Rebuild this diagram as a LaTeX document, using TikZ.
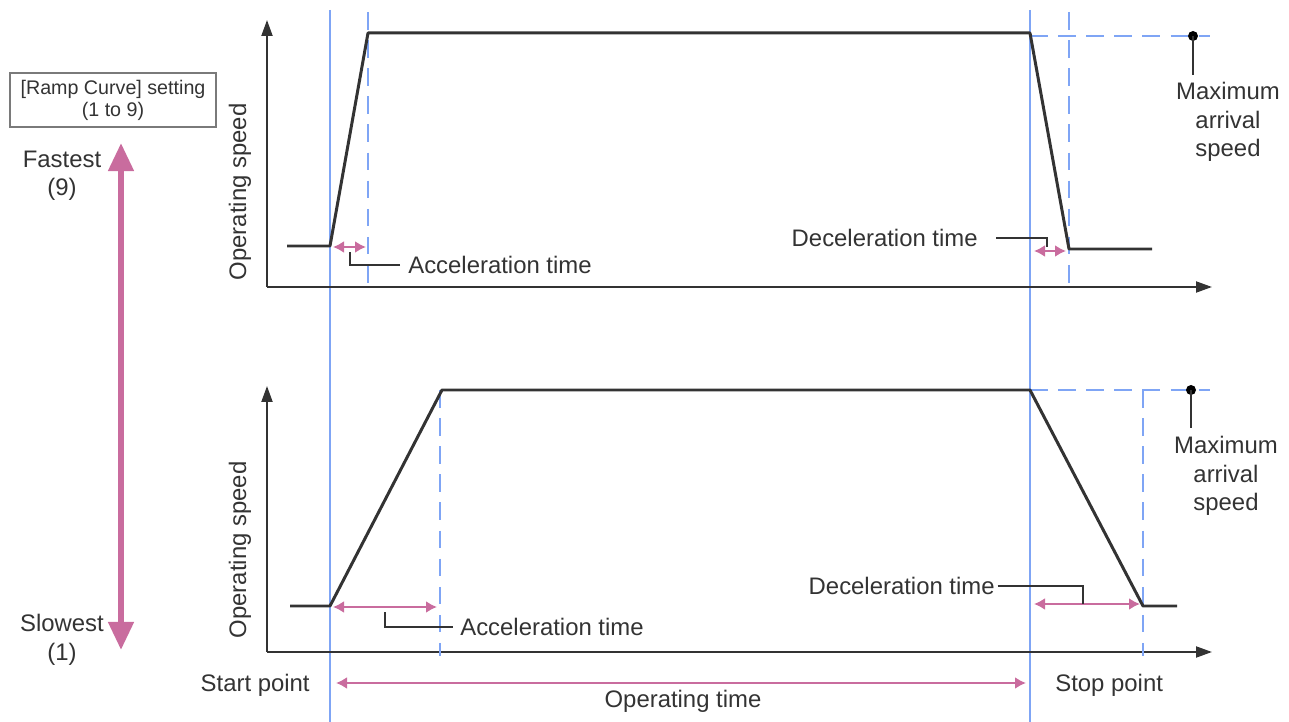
\documentclass[tikz,border=0pt]{standalone}
\usepackage{fontspec}
\setmainfont{Liberation Sans}
\usepackage{tikz}
\usetikzlibrary{positioning,arrows.meta}
\definecolor{rampblue}{HTML}{7FA5F5}
\definecolor{ramppink}{HTML}{C96C9E}
\definecolor{rampgrey}{HTML}{333333}
\definecolor{rampframe}{HTML}{7A7A7A}

\begin{document}
\begin{tikzpicture}[
    x=0.02cm, y=-0.02cm,
    lbl/.style={font=\fontsize{13.6}{16.2}\selectfont, text=rampgrey, inner sep=0pt, align=center},
    small/.style={font=\fontsize{11.2}{12.6}\selectfont, text=rampgrey, inner sep=0pt, align=center},
    axis/.style={-{Triangle[length=3.2mm,width=2.2mm]}, line width=1.1pt, rampgrey},
    profile/.style={line width=1.7pt, rampgrey, line join=round},
    startstop/.style={rampblue, line width=1.5pt},
    guide/.style={rampblue, line width=1.5pt, dash pattern=on 10pt off 6pt},
    span/.style={{Latex[length=2.2mm,width=2.4mm]}-{Latex[length=2.2mm,width=2.4mm]}, ramppink, line width=1.7pt},
    leader/.style={line width=0.9pt, rampgrey},
    bigarrow/.style={{Triangle[length=16pt,width=14pt]}-{Triangle[length=16pt,width=14pt]}, ramppink, line width=3.4pt}
]
\useasboundingbox (0,0) rectangle (1289,722);

% start and stop lines
\coordinate (starttop) at (330,10);
\coordinate (startbot) at (330,722);
\coordinate (stoptop) at (1030,10);
\coordinate (stopbot) at (1030,722);
\draw[startstop] (starttop) -- (startbot);
\draw[startstop] (stoptop) -- (stopbot);

% upper chart (fastest)
\coordinate (o1) at (267,287);
\coordinate (y1) at (267,20);
\coordinate (x1) at (1212,287);
\draw[axis] (o1) -- (y1);
\draw[axis] (o1) -- (x1);
\draw[guide] (368,12) -- (368,287);
\draw[guide] (1069,12) -- (1069,287);
\draw[guide] (1030,36) -- (1210,36);
\draw[profile] (287,246) -- (330,246) -- (368,33) -- (1030,33) -- (1069,249) -- (1152,249);
\node[lbl, rotate=90] (speed1) at (240,192) {Operating speed};

\coordinate (acc1a) at (333,247);
\coordinate (acc1b) at (366,247);
\draw[span] (acc1a) -- (acc1b);
\node[lbl, anchor=west] (acc1) at (408,265) {Acceleration time};
\coordinate (acc1tip) at (350,252);
\draw[leader] ([xshift=-4.5pt]acc1.west) -| (acc1tip);

\coordinate (dec1a) at (1034,251);
\coordinate (dec1b) at (1066,251);
\draw[span] (dec1a) -- (dec1b);
\node[lbl, anchor=east] (dec1) at (978,238) {Deceleration time};
\coordinate (dec1tip) at (1047,247);
\draw[leader] ([xshift=10.5pt]dec1.east) -| (dec1tip);

\fill[black] (1193,36) circle (5);
\coordinate (max1dot) at (1193,36);
\node[lbl] (max1) at (1228,122) {Maximum\\arrival\\speed};
\draw[leader] (max1dot) -- (1193,75);

% lower chart (slowest)
\coordinate (o2) at (267,652);
\coordinate (y2) at (267,386);
\coordinate (x2) at (1212,652);
\draw[axis] (o2) -- (y2);
\draw[axis] (o2) -- (x2);
\draw[guide] (440,390) -- (440,656);
\draw[guide] (1143,390) -- (1143,656);
\draw[guide] (1030,390) -- (1210,390);
\draw[profile] (290,606) -- (330,606) -- (442,390) -- (1030,390) -- (1143,606) -- (1177,606);
\node[lbl, rotate=90] (speed2) at (240,550) {Operating speed};

\coordinate (acc2a) at (333,607);
\coordinate (acc2b) at (437,607);
\draw[span] (acc2a) -- (acc2b);
\node[lbl, anchor=west] (acc2) at (460,627) {Acceleration time};
\coordinate (acc2tip) at (385,612);
\draw[leader] ([xshift=-4pt]acc2.west) -| (acc2tip);

\coordinate (dec2a) at (1034,604);
\coordinate (dec2b) at (1140,604);
\draw[span] (dec2a) -- (dec2b);
\node[lbl, anchor=east] (dec2) at (995,586) {Deceleration time};
\coordinate (dec2tip) at (1083,604);
\draw[leader] ([xshift=1.5pt]dec2.east) -| (dec2tip);

\fill[black] (1191,390) circle (5);
\coordinate (max2dot) at (1191,390);
\node[lbl] (max2) at (1226,476) {Maximum\\arrival\\speed};
\draw[leader] (max2dot) -- (1191,428);

% operating time
\node[lbl, anchor=east] (start) at (310,685) {Start point};
\node[lbl, anchor=west] (stop) at (1055,685) {Stop point};
\coordinate (opa) at (336,683);
\coordinate (opb) at (1026,683);
\draw[span] (opa) -- (opb);
\node[lbl] (optime) at (683,701) {Operating time};

% ramp curve setting
\node[small, draw=rampframe, line width=0.8pt, minimum width=4.12cm, minimum height=1.08cm] (setting) at (113,100) {[Ramp Curve] setting\\(1 to 9)};
\coordinate (fast) at (121,143);
\coordinate (slow) at (121,650);
\draw[bigarrow] (fast) -- (slow);
\node[lbl] (fastest) at (62,176) {Fastest\\(9)};
\node[lbl] (slowest) at (62,640) {Slowest\\(1)};

\end{tikzpicture}
\end{document}
